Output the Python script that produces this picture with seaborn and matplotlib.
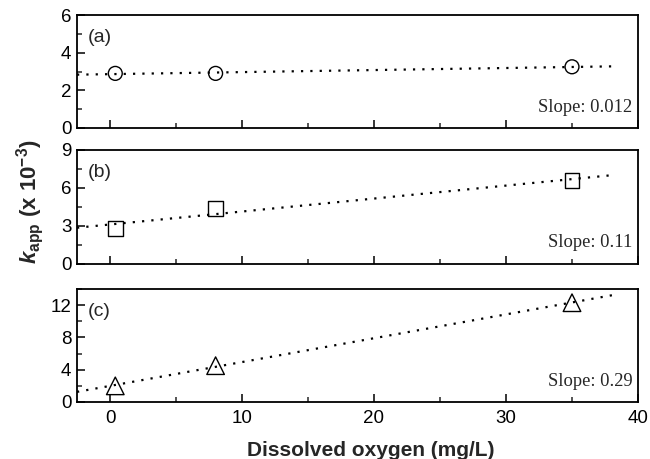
import numpy as np
import pandas as pd
import seaborn as sns
import matplotlib.pyplot as plt
from matplotlib.ticker import MultipleLocator

sns.set_theme(style="white")
plt.rcParams['font.family'] = ['Liberation Sans', 'DejaVu Sans']
plt.rcParams['mathtext.fontset'] = 'custom'
plt.rcParams['mathtext.rm'] = 'Liberation Sans'
plt.rcParams['mathtext.it'] = 'Liberation Sans:italic'
plt.rcParams['mathtext.bf'] = 'Liberation Sans:bold'
plt.rcParams['mathtext.bfit'] = 'Liberation Sans:italic:bold'

# Data
do_conc = [0.4, 8.0, 35.0]
kapp_a = [2.9, 2.9, 3.25]
kapp_b = [2.8, 4.4, 6.6]
kapp_c = [2.0, 4.5, 12.3]
panel_labels = ['(a)', '(b)', '(c)']
slope_labels = ['Slope: 0.012', 'Slope: 0.11', 'Slope: 0.29']
markers = ['o', 's', '^']
marker_sizes = [100, 110, 160]
ylims = [(0, 6), (0, 9), (0, 14)]
ymajor = [2, 3, 4]
yminor = [1, 1.5, 2]

series = [kapp_a, kapp_b, kapp_c]

fig = plt.figure(figsize=(6.5, 4.59), dpi=100)
L, W = 77/650, (638-77)/650
bottoms = [1-128/459, 1-264/459, 1-402/459]
heights = [113/459, 114/459, 113/459]

for i in range(3):
    ax = fig.add_axes([L, bottoms[i], W, heights[i]])
    df = pd.DataFrame({'x': do_conc, 'y': series[i]})
    # fit line drawn across the range where the original line extends
    ax.set_xlim(-2.5, 38.3)
    sns.regplot(data=df, x='x', y='y', ax=ax, scatter=False, ci=None, truncate=False,
                line_kws=dict(color='black', lw=1.6, ls=(0, (1, 3.2))))
    sns.scatterplot(data=df, x='x', y='y', ax=ax, marker=markers[i], s=marker_sizes[i],
                    facecolor='none', edgecolor='black', linewidth=1.0, zorder=3)
    ax.set_xlim(-2.5, 40)
    ax.set_ylim(*ylims[i])
    ax.xaxis.set_major_locator(MultipleLocator(10))
    ax.xaxis.set_minor_locator(MultipleLocator(5))
    ax.yaxis.set_major_locator(MultipleLocator(ymajor[i]))
    ax.yaxis.set_minor_locator(MultipleLocator(yminor[i]))
    ax.tick_params(axis='both', which='major', direction='in', length=6, width=1.1,
                   labelsize=13.5, colors='black', bottom=True, left=True, top=False, right=False, pad=4)
    ax.tick_params(axis='both', which='minor', direction='in', length=3.5, width=1.1,
                   bottom=True, left=True, top=False, right=False)
    ax.tick_params(axis='x', which='major', pad=6)
    for sp in ax.spines.values():
        sp.set_linewidth(1.3)
        sp.set_color('black')
    ax.set_ylabel('')
    ax.set_xlabel('')
    if i < 2:
        ax.tick_params(axis='x', labelbottom=False)
    ax.text(0.02, 0.80, panel_labels[i], transform=ax.transAxes, fontsize=14,
            ha='left', va='center')
    ax.text(0.99, 0.11, slope_labels[i], transform=ax.transAxes, fontsize=13.3,
            ha='right', va='bottom', family='Liberation Serif')

fig.text(371/650, 1-450/459, 'Dissolved oxygen (mg/L)', fontsize=15, fontweight='bold',
         ha='center', va='center')
fig.text(0.046, 0.56, r'$\mathbfit{k}_{\mathbf{app}}$ (x 10$^{\mathbf{-3}}$)', rotation=90,
         ha='center', va='center', fontsize=16, fontweight='bold')

fig.savefig('out.png', dpi=100)
